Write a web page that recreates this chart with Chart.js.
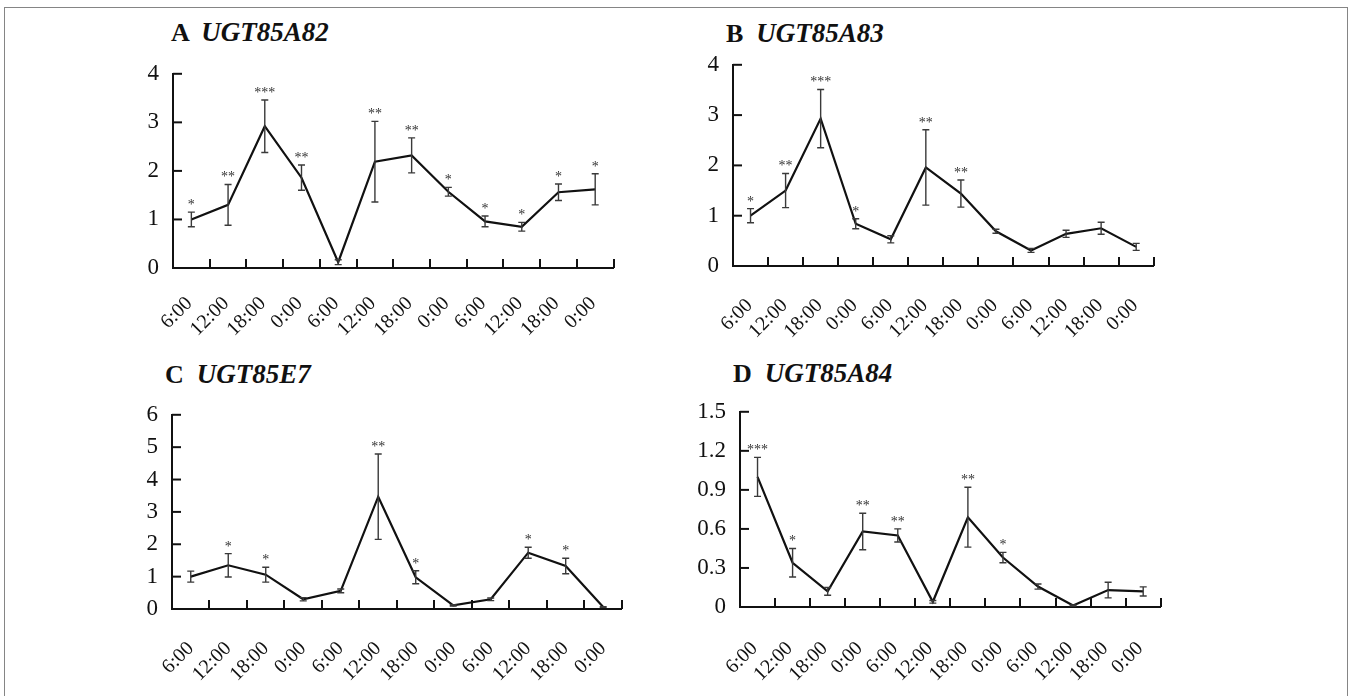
<!DOCTYPE html>
<html><head><meta charset="utf-8">
<script src="https://cdn.jsdelivr.net/npm/chart.js@4.4.1/dist/chart.umd.min.js"></script>
<style>
html,body{margin:0;padding:0;background:#fff;width:1352px;height:696px;overflow:hidden;position:relative}
.frame{position:absolute;left:4px;top:7px;width:1344px;height:700px;border:1px solid #858585;box-sizing:border-box}
.box{position:absolute}
.ttl{position:absolute;font-family:"Liberation Serif",serif;font-weight:bold;font-size:26px;line-height:28px;color:#111;white-space:pre}
.ttl i{font-style:italic;font-size:27px}
</style></head><body>
<div class="frame"></div>
<div class="ttl" style="left:171px;top:18px">A  <i>UGT85A82</i></div>
<div class="ttl" style="left:726px;top:19px">B  <i>UGT85A83</i></div>
<div class="ttl" style="left:165px;top:360px">C  <i>UGT85E7</i></div>
<div class="ttl" style="left:733px;top:359px">D  <i>UGT85A84</i></div>
<div class="box" id="boxA"><canvas id="cA"></canvas></div>
<div class="box" id="boxB"><canvas id="cB"></canvas></div>
<div class="box" id="boxC"><canvas id="cC"></canvas></div>
<div class="box" id="boxD"><canvas id="cD"></canvas></div>
<script>
// ---- data ----
const timeLabels = ['6:00','12:00','18:00','0:00','6:00','12:00','18:00','0:00','6:00','12:00','18:00','0:00'];

const ugt85a82    = [1.00, 1.30, 2.92, 1.86, 0.12, 2.19, 2.32, 1.57, 0.96, 0.85, 1.56, 1.62];
const ugt85a82Err = [0.15, 0.42, 0.54, 0.26, 0.05, 0.83, 0.36, 0.09, 0.11, 0.09, 0.17, 0.32];
const ugt85a82Sig = ['*','**','***','**','','**','**','*','*','*','*','*'];

const ugt85a83    = [1.00, 1.50, 2.93, 0.84, 0.53, 1.96, 1.44, 0.69, 0.31, 0.64, 0.75, 0.38];
const ugt85a83Err = [0.14, 0.34, 0.58, 0.10, 0.07, 0.75, 0.27, 0.04, 0.04, 0.07, 0.12, 0.07];
const ugt85a83Sig = ['*','**','***','*','','**','**','','','','',''];

const ugt85e7     = [1.00, 1.35, 1.06, 0.30, 0.56, 3.47, 0.98, 0.11, 0.30, 1.74, 1.33, 0.06];
const ugt85e7Err  = [0.17, 0.36, 0.23, 0.05, 0.06, 1.32, 0.20, 0.02, 0.04, 0.17, 0.24, 0.01];
const ugt85e7Sig  = ['','*','*','','','**','*','','','*','*',''];

const ugt85a84    = [1.00, 0.34, 0.12, 0.58, 0.55, 0.04, 0.69, 0.38, 0.157, 0.012, 0.13, 0.12];
const ugt85a84Err = [0.15, 0.11, 0.03, 0.14, 0.05, 0.01, 0.23, 0.04, 0.02, 0.004, 0.06, 0.035];
const ugt85a84Sig = ['***','*','','**','**','','**','*','','','',''];

const yTicksA = {max: 4, step: 1};
const yTicksB = {max: 4, step: 1};
const yTicksC = {max: 6, step: 1};
const yTicksD = {max: 1.5, step: 0.3};

// ---- drawing helpers ----
const FONT = '"Liberation Serif", "Times New Roman", serif';

const decorPlugin = {
  id: 'decor',
  afterDatasetsDraw(chart, args, opts) {
    const ctx = chart.ctx, xs = chart.scales.x, ys = chart.scales.y;
    const vals = chart.data.datasets[0].data;
    ctx.save();
    // error bars
    ctx.strokeStyle = '#3a3a3a';
    ctx.lineWidth = 1.4;
    vals.forEach((v, i) => {
      const e = opts.err[i];
      const px = xs.getPixelForValue(i);
      const yt = ys.getPixelForValue(v + e), yb = ys.getPixelForValue(Math.max(0, v - e));
      ctx.beginPath();
      ctx.moveTo(px, yt); ctx.lineTo(px, yb);
      ctx.moveTo(px - 3.5, yt); ctx.lineTo(px + 3.5, yt);
      ctx.moveTo(px - 3.5, yb); ctx.lineTo(px + 3.5, yb);
      ctx.stroke();
      const s = opts.sig[i];
      if (s) {
        ctx.fillStyle = '#333';
        ctx.font = '14px ' + FONT;
        ctx.textAlign = 'center';
        ctx.textBaseline = 'alphabetic';
        ctx.fillText(s, px, yt - 3);
      }
    });
    // inner tick marks
    ctx.strokeStyle = '#111';
    ctx.lineWidth = 2;
    const n = xs.ticks.length;
    for (let i = 1; i <= n; i++) {
      const px = Math.round(xs.left + i * (xs.right - xs.left) / n);
      ctx.beginPath(); ctx.moveTo(px, ys.bottom); ctx.lineTo(px, ys.bottom - 9); ctx.stroke();
    }
    ys.ticks.forEach(t => {
      const py = ys.getPixelForValue(t.value);
      ctx.beginPath(); ctx.moveTo(xs.left, py); ctx.lineTo(xs.left + 9, py); ctx.stroke();
    });
    ctx.restore();
  }
};

function makeChart(boxId, canvasId, area, values, errs, sigs, yt, fmt, xPad, xOff) {
  const PADL = 10, YW = 60, PADT = 15, PADR = 20, XH = 85, PADB = 5;
  const box = document.getElementById(boxId);
  box.style.left = (area[0] - YW - PADL) + 'px';
  box.style.top = (area[1] - PADT) + 'px';
  box.style.width = (area[2] - area[0] + YW + PADL + PADR) + 'px';
  box.style.height = (area[3] - area[1] + PADT + XH + PADB) + 'px';
  new Chart(document.getElementById(canvasId), {
    type: 'line',
    data: {
      labels: timeLabels,
      datasets: [{
        data: values,
        borderColor: '#111',
        borderWidth: 2.2,
        pointRadius: 0,
        tension: 0,
        fill: false
      }]
    },
    options: {
      responsive: true,
      maintainAspectRatio: false,
      animation: false,
      events: [],
      layout: {padding: {left: PADL, top: PADT, right: PADR, bottom: PADB}},
      plugins: {
        legend: {display: false},
        tooltip: {enabled: false},
        decor: {err: errs, sig: sigs}
      },
      scales: {
        x: {
          type: 'category',
          offset: true,
          grid: {display: false, drawTicks: false},
          border: {display: true, color: '#111', width: 2},
          ticks: {
            autoSkip: false, maxRotation: 45, minRotation: 45,
            padding: xPad, labelOffset: xOff, color: '#111',
            font: {family: FONT, size: 20}
          },
          afterFit: s => { s.height = XH; }
        },
        y: {
          min: 0, max: yt.max,
          grid: {display: false, drawTicks: false},
          border: {display: true, color: '#111', width: 2},
          ticks: {
            stepSize: yt.step, padding: 14, color: '#111',
            font: {family: FONT, size: 23},
            callback: fmt
          },
          afterFit: s => { s.width = YW; }
        }
      }
    },
    plugins: [decorPlugin]
  });
}

const intFmt = v => String(Math.round(v));
const decFmt = v => (Math.abs(v) < 1e-9 ? '0' : v.toFixed(1));

makeChart('boxA', 'cA', [173, 61, 617, 268], ugt85a82, ugt85a82Err, ugt85a82Sig, yTicksA, intFmt, 24, -2);
makeChart('boxB', 'cB', [733, 52, 1162, 266], ugt85a83, ugt85a83Err, ugt85a83Sig, yTicksB, intFmt, 28, -1);
makeChart('boxC', 'cC', [172, 402, 629, 609], ugt85e7, ugt85e7Err, ugt85e7Sig, yTicksC, intFmt, 28, 0);
makeChart('boxD', 'cD', [740, 399, 1171, 607], ugt85a84, ugt85a84Err, ugt85a84Sig, yTicksD, decFmt, 30, -3);
</script>
</body></html>
